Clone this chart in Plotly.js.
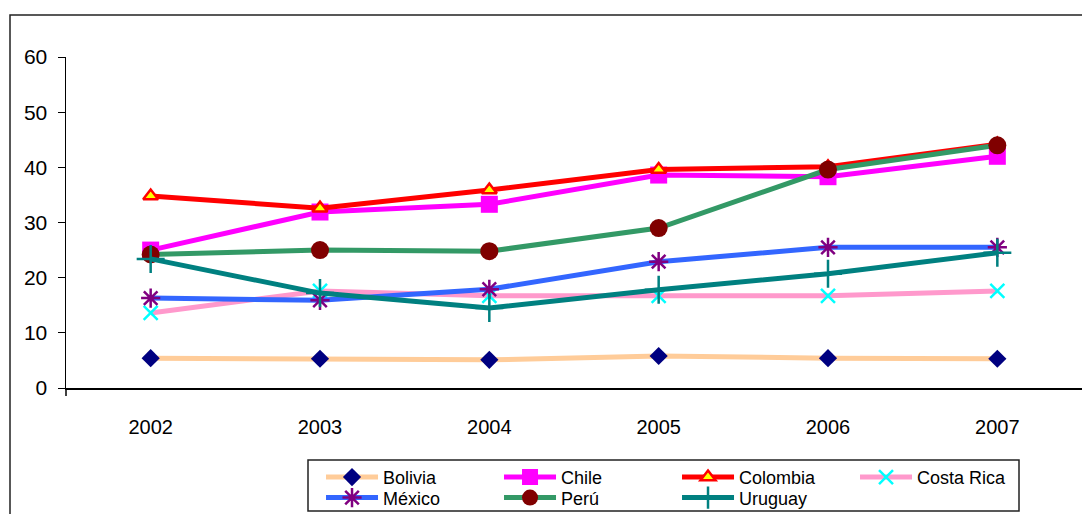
<!DOCTYPE html>
<html>
<head>
<meta charset="utf-8">
<script src="https://cdn.plot.ly/plotly-3.0.1.min.js"></script>
<style>html,body{margin:0;padding:0;background:#fff;}#chart{width:1082px;height:514px;}</style>
</head>
<body>
<div id="chart"></div>
<script>
var years = ["2002", "2003", "2004", "2005", "2006", "2007"];
var bolivia = [5.4, 5.3, 5.1, 5.8, 5.4, 5.3];
var chile = [25.0, 31.9, 33.3, 38.6, 38.3, 42.0];
var colombia = [34.8, 32.6, 35.9, 39.6, 40.1, 44.2];
var costaRica = [13.6, 17.6, 16.7, 16.7, 16.7, 17.6];
var mexico = [16.3, 15.9, 17.9, 22.9, 25.5, 25.5];
var peru = [24.2, 25.0, 24.8, 29.0, 39.6, 44.0];
var uruguay = [23.4, 17.2, 14.5, 17.8, 20.7, 24.5];
var yTicks = [0, 10, 20, 30, 40, 50, 60];

var FONT = "Liberation Sans, Arial, sans-serif";
var LW = 5;

function tr(name, y, lineColor, marker, leg) {
  return {
    x: years, y: y, name: name, type: "scatter", mode: "lines+markers",
    line: {color: lineColor, width: LW},
    marker: marker, legend: leg, cliponaxis: false
  };
}

var data = [
  tr("Bolivia", bolivia, "#FFCC99", {symbol: "diamond", size: 14, color: "#000080"}, "legend"),
  tr("Chile", chile, "#FF00FF", {symbol: "square", size: 17, color: "#FF00FF"}, "legend"),
  tr("Colombia", colombia, "#FF0000", {symbol: "triangle-up", size: 13, color: "#FFFF00", line: {color: "#FF0000", width: 2.5}}, "legend"),
  tr("Costa Rica", costaRica, "#FF99CC", {symbol: "x-thin-open", size: 14, color: "#00FFFF", line: {color: "#00FFFF", width: 2.5}}, "legend"),
  tr("México", mexico, "#3366FF", {symbol: "asterisk-open", size: 16, color: "#800080", line: {color: "#800080", width: 2.5}}, "legend2"),
  tr("Perú", peru, "#339966", {symbol: "circle", size: 18, color: "#800000"}, "legend2"),
  tr("Uruguay", uruguay, "#008080", {symbol: "cross-thin-open", size: 20, color: "#008080", line: {color: "#008080", width: 2.5}}, "legend2")
];

function legendDef(y) {
  return {
    orientation: "h", x: 0.251, xanchor: "left", y: y, yanchor: "middle",
    font: {family: FONT, size: 18, color: "#000"},
    entrywidth: 111, entrywidthmode: "pixels", itemwidth: 52,
    bgcolor: "rgba(0,0,0,0)", borderwidth: 0, tracegroupgap: 0,
    itemclick: false, itemdoubleclick: false
  };
}

var layout = {
  width: 1082, height: 514,
  margin: {l: 66, r: 0, t: 57, b: 126, autoexpand: false},
  paper_bgcolor: "#FFFFFF", plot_bgcolor: "#FFFFFF",
  font: {family: FONT, size: 20, color: "#000"},
  showlegend: true,
  legend: legendDef(-0.27),
  legend2: legendDef(-0.332),
  xaxis: {
    type: "category", range: [-0.5, 5.5], fixedrange: true,
    showline: true, linecolor: "#000", linewidth: 1.5,
    ticks: "", showgrid: false, zeroline: false,
    tickfont: {family: FONT, size: 20, color: "#000"}, ticklabelstandoff: 20
  },
  yaxis: {
    range: [0, 60], tickvals: yTicks, fixedrange: true,
    showline: true, linecolor: "#000", linewidth: 1.5,
    ticks: "outside", ticklen: 7, tickwidth: 1, tickcolor: "#000",
    showgrid: false, zeroline: false, ticklabelstandoff: 6,
    tickfont: {family: FONT, size: 21, color: "#000"}
  },
  shapes: [
    {type: "rect", xref: "paper", yref: "paper", x0: -56/1016, x1: 1.02, y0: -0.45, y1: (388-15)/331,
     line: {color: "#222", width: 1.5}, fillcolor: "rgba(0,0,0,0)", layer: "below"},
    {type: "rect", xref: "paper", yref: "paper", x0: (308-66)/1016, x1: (1019-66)/1016, y0: (388-511)/331, y1: (388-460)/331,
     line: {color: "#222", width: 1.5}, fillcolor: "rgba(0,0,0,0)", layer: "below"},
    {type: "line", xref: "paper", yref: "paper", x0: 0, x1: 0, y0: 0, y1: -8/331,
     line: {color: "#000", width: 1.5}}
  ]
};

Plotly.newPlot("chart", data, layout, {displayModeBar: false, staticPlot: true});
</script>
</body>
</html>
